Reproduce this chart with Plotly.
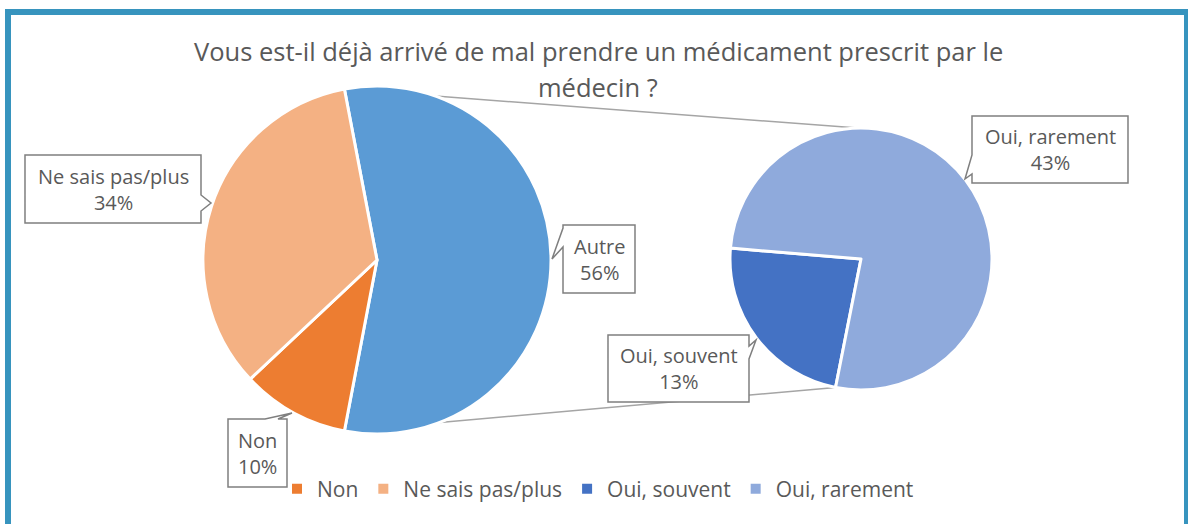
import math
import plotly.graph_objects as go

# ---------------- data ----------------
title_lines = ["Vous est-il déjà arrivé de mal prendre un médicament prescrit par le", "médecin ?"]
main_labels = ["Autre", "Non", "Ne sais pas/plus"]
main_values = [56, 10, 34]
sub_labels = ["Oui, souvent", "Oui, rarement"]
sub_values = [13, 43]
legend_labels = ["Non", "Ne sais pas/plus", "Oui, souvent", "Oui, rarement"]

colors = {
    "Autre": "#5B9BD5",
    "Non": "#ED7D31",
    "Ne sais pas/plus": "#F4B183",
    "Oui, souvent": "#4472C4",
    "Oui, rarement": "#8FAADC",
}

W, H = 1188, 524
FONT = "Open Sans"
TXT = "#595959"


def px(x):
    return x / W


def py(y):
    return 1 - y / H


# ---------------- geometry ----------------
L_dom = dict(x=[px(203), px(551)], y=[py(434), py(86)])
R_dom = dict(x=[px(730), px(992)], y=[py(390), py(128)])

main_total = sum(main_values)
autre_share = main_values[0] / main_total
main_rotation = -autre_share * 360 / 2 + 90  # Autre centred on the right side
sub_rotation = 191.2

fig = go.Figure()

fig.add_trace(go.Pie(
    labels=main_labels, values=main_values, sort=False, direction="clockwise",
    rotation=main_rotation, domain=L_dom, textinfo="none", textposition="none",
    marker=dict(colors=[colors[l] for l in main_labels], line=dict(color="white", width=3)),
    showlegend=False, hoverinfo="label+percent",
))
fig.add_trace(go.Pie(
    labels=sub_labels, values=sub_values, sort=False, direction="clockwise",
    rotation=sub_rotation, domain=R_dom, textinfo="none", textposition="none",
    marker=dict(colors=[colors[l] for l in sub_labels], line=dict(color="white", width=3)),
    showlegend=False, hoverinfo="label+value",
))

# legend entries
for lab in legend_labels:
    fig.add_trace(go.Scatter(
        x=[None], y=[None], mode="markers", name=lab,
        marker=dict(symbol="square", size=10, color=colors[lab]),
    ))


def pie_geom(dom):
    x0, x1 = dom["x"][0] * W, dom["x"][1] * W
    y0, y1 = (1 - dom["y"][1]) * H, (1 - dom["y"][0]) * H
    return (x0 + x1) / 2, (y0 + y1) / 2, min(x1 - x0, y1 - y0) / 2


def pt(geom, ang):
    cx, cy, r = geom
    a = math.radians(ang)
    return cx + r * math.sin(a), cy - r * math.cos(a)


Lg = pie_geom(L_dom)
Rg = pie_geom(R_dom)
upper_l = pt(Lg, main_rotation)
lower_l = pt(Lg, main_rotation + autre_share * 360)
upper_r = pt(Rg, -1.3)
lower_r = pt(Rg, sub_rotation)

shapes = []
for a, b in [(upper_l, upper_r), (lower_l, lower_r)]:
    shapes.append(dict(type="line", xref="paper", yref="paper", layer="below",
                       x0=px(a[0]), y0=py(a[1]), x1=px(b[0]), y1=py(b[1]),
                       line=dict(color="#A5A5A5", width=1.5)))

# frame
shapes.append(dict(type="rect", xref="paper", yref="paper", layer="below",
                   x0=px(8), x1=px(1187), y0=py(530), y1=py(12),
                   line=dict(color="#3794BE", width=6)))

# callouts: (label, value, outline polygon in px, text centre)
callouts = [
    ("Ne sais pas/plus", 34,
     [(25, 155), (201, 155), (201, 195), (211, 203), (201, 211), (201, 223), (25, 223)], (113, 189)),
    ("Autre", 56,
     [(563, 225), (635, 225), (635, 293), (563, 293), (563, 247), (552, 259), (563, 228)], (599, 259)),
    ("Non", 10,
     [(228, 419), (265, 419), (292, 413), (278, 419), (287, 419), (287, 487), (228, 487)], (257.5, 453)),
    ("Oui, souvent", 13,
     [(608, 335), (749, 335), (749, 346), (756, 340), (749, 359), (749, 402), (608, 402)], (678.5, 368.5)),
    ("Oui, rarement", 43,
     [(972, 116), (1128, 116), (1128, 183), (972, 183), (972, 174), (965, 179), (972, 155)], (1050, 149.5)),
]

annotations = []
for lab, val, poly, (tx, ty) in callouts:
    path = "M " + " L ".join(f"{px(x):.5f},{py(y):.5f}" for x, y in poly) + " Z"
    shapes.append(dict(type="path", xref="paper", yref="paper", path=path,
                       fillcolor="white", line=dict(color="#7F7F7F", width=1.5)))
    annotations.append(dict(x=px(tx), y=py(ty), xref="paper", yref="paper",
                            text=f"{lab}<br>{val}%", showarrow=False,
                            xanchor="center", yanchor="middle",
                            font=dict(family=FONT, size=20, color=TXT)))

for line, yy in zip(title_lines, [51, 87]):
    annotations.append(dict(x=px(598), y=py(yy), xref="paper", yref="paper",
                            text=line, showarrow=False, xanchor="center", yanchor="middle",
                            font=dict(family=FONT, size=25.5, color=TXT)))

fig.update_layout(
    width=W, height=H,
    margin=dict(l=0, r=0, t=0, b=0),
    paper_bgcolor="white", plot_bgcolor="white",
    xaxis=dict(visible=False), yaxis=dict(visible=False),
    shapes=shapes, annotations=annotations,
    legend=dict(orientation="h", x=px(598), xanchor="center", y=py(489), yanchor="middle",
                font=dict(family=FONT, size=21, color=TXT), bgcolor="rgba(0,0,0,0)"),
    font=dict(family=FONT, color=TXT),
)

fig.write_html("out.html", config={"displayModeBar": False},
               post_script="document.body.style.margin='0px';")
